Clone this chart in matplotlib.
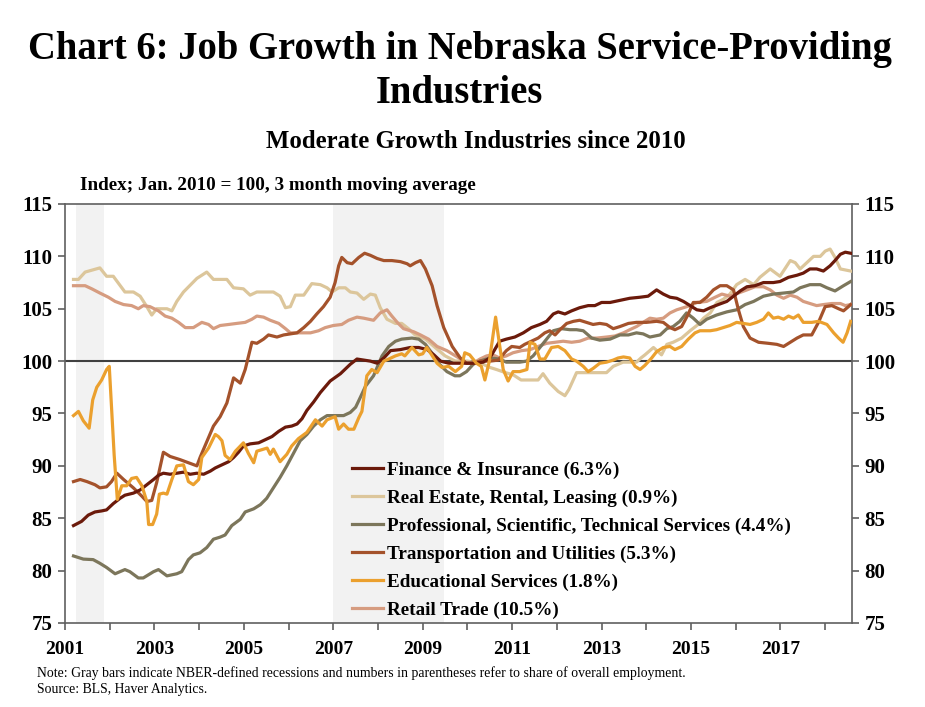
import matplotlib
matplotlib.use("Agg")
import matplotlib.pyplot as plt
from matplotlib.ticker import FixedLocator

plt.rcParams['font.family'] = ['Liberation Serif', 'DejaVu Serif']

# ---------------- data (decimal year, index) ----------------
fin_x = [2001.19, 2001.37, 2001.52, 2001.67, 2001.82, 2001.93, 2002.08, 2002.23, 2002.34, 2002.53,
         2002.68, 2002.83, 2002.98, 2003.09, 2003.2, 2003.35, 2003.5, 2003.65, 2003.8, 2003.95,
         2004.1, 2004.25, 2004.36, 2004.51, 2004.66, 2004.77, 2004.88, 2004.99, 2005.14, 2005.33,
         2005.48, 2005.63, 2005.78, 2005.93, 2006.07, 2006.19, 2006.3, 2006.41, 2006.56, 2006.71,
         2006.93, 2007.16, 2007.38, 2007.53, 2007.68, 2007.83, 2007.98, 2008.13, 2008.28, 2008.5,
         2008.72, 2008.91, 2009.1, 2009.25, 2009.4, 2009.58, 2009.83, 2010.13, 2010.35, 2010.5,
         2010.61, 2010.72, 2010.87, 2011.06, 2011.25, 2011.43, 2011.62, 2011.77, 2011.92, 2012.03,
         2012.18, 2012.33, 2012.51, 2012.7, 2012.85, 2013.0, 2013.19, 2013.41, 2013.63, 2013.86,
         2014.04, 2014.23, 2014.38, 2014.53, 2014.68, 2014.83, 2014.98, 2015.13, 2015.28, 2015.43,
         2015.61, 2015.8, 2015.95, 2016.1, 2016.25, 2016.43, 2016.62, 2016.84, 2016.99, 2017.18,
         2017.37, 2017.51, 2017.66, 2017.81, 2017.96, 2018.11, 2018.22, 2018.34, 2018.45, 2018.57]
fin_y = [84.3, 84.7, 85.3, 85.6, 85.7, 85.8, 86.4, 86.9, 87.2, 87.4,
         87.7, 88.2, 88.7, 89.1, 89.3, 89.2, 89.3, 89.4, 89.2, 89.3,
         89.2, 89.5, 89.8, 90.1, 90.4, 90.8, 91.3, 91.9, 92.1, 92.2,
         92.5, 92.8, 93.3, 93.7, 93.8, 94.0, 94.5, 95.3, 96.1, 97.0,
         98.1, 98.8, 99.7, 100.2, 100.1, 100.0, 99.8, 100.3, 101.0, 101.1,
         101.3, 101.3, 101.1, 100.6, 100.0, 99.8, 99.8, 99.8, 99.9, 100.3,
         101.1, 101.9, 102.1, 102.3, 102.7, 103.2, 103.5, 103.8, 104.5, 104.7,
         104.5, 104.8, 105.1, 105.3, 105.3, 105.6, 105.6, 105.8, 106.0, 106.1,
         106.2, 106.8, 106.4, 106.1, 106.0, 105.7, 105.3, 104.9, 104.8, 105.1,
         105.4, 105.7, 106.2, 106.7, 107.1, 107.2, 107.5, 107.5, 107.6, 108.0,
         108.2, 108.4, 108.8, 108.8, 108.6, 109.1, 109.6, 110.2, 110.4, 110.3]

re_x = [2001.19, 2001.3, 2001.45, 2001.78, 2001.93, 2002.08, 2002.34, 2002.53, 2002.68, 2002.83,
        2002.94, 2003.05, 2003.28, 2003.39, 2003.5, 2003.65, 2003.95, 2004.17, 2004.32, 2004.62,
        2004.77, 2004.99, 2005.14, 2005.29, 2005.66, 2005.81, 2005.93, 2006.04, 2006.15, 2006.34,
        2006.52, 2006.71, 2006.86, 2006.97, 2007.12, 2007.27, 2007.38, 2007.53, 2007.68, 2007.83,
        2007.94, 2008.05, 2008.2, 2008.39, 2008.53, 2008.68, 2008.83, 2009.06, 2009.28, 2009.5,
        2009.73, 2010.0, 2010.35, 2010.5, 2010.65, 2010.85, 2011.02, 2011.2, 2011.4, 2011.58,
        2011.69, 2011.84, 2012.03, 2012.18, 2012.27, 2012.44, 2012.74, 2013.11, 2013.26, 2013.48,
        2013.78, 2013.88, 2013.97, 2014.16, 2014.34, 2014.46, 2014.6, 2014.79, 2014.98, 2015.16,
        2015.28, 2015.43, 2015.58, 2015.72, 2015.87, 2016.02, 2016.21, 2016.4, 2016.54, 2016.77,
        2016.99, 2017.22, 2017.33, 2017.44, 2017.59, 2017.74, 2017.89, 2018.0, 2018.11, 2018.22,
        2018.34, 2018.57]
re_y = [107.8, 107.8, 108.5, 108.9, 108.1, 108.1, 106.6, 106.6, 106.2, 105.2,
        104.4, 105.0, 105.0, 104.8, 105.7, 106.6, 107.9, 108.5, 107.8, 107.8,
        107.0, 106.9, 106.3, 106.6, 106.6, 106.2, 105.1, 105.2, 106.3, 106.3,
        107.4, 107.3, 107.0, 106.6, 107.0, 107.0, 106.6, 106.5, 105.9, 106.4,
        106.3, 105.1, 104.0, 103.6, 103.6, 103.1, 102.5, 102.1, 101.3, 100.5,
        100.0, 100.0, 99.7, 99.4, 99.2, 98.9, 98.7, 98.2, 98.2, 98.2,
        98.8, 97.9, 97.1, 96.7, 97.3, 98.9, 98.9, 98.9, 99.5, 99.9,
        99.9, 100.3, 100.6, 101.3, 100.6, 101.6, 101.8, 102.2, 102.9, 103.5,
        104.1, 104.6, 105.6, 105.9, 106.4, 107.3, 107.8, 107.3, 108.0, 108.8,
        108.1, 109.6, 109.4, 108.8, 109.4, 110.0, 110.0, 110.5, 110.7, 109.9,
        108.8, 108.6]

pro_x = [2001.19, 2001.41, 2001.63, 2001.78, 2001.93, 2002.12, 2002.34, 2002.45, 2002.64, 2002.75,
         2002.98, 2003.09, 2003.28, 2003.5, 2003.61, 2003.76, 2003.87, 2004.02, 2004.17, 2004.32,
         2004.47, 2004.58, 2004.73, 2004.92, 2005.03, 2005.22, 2005.37, 2005.51, 2005.66, 2005.81,
         2005.96, 2006.11, 2006.26, 2006.41, 2006.56, 2006.71, 2006.86, 2007.0, 2007.23, 2007.38,
         2007.5, 2007.6, 2007.72, 2007.9, 2008.09, 2008.24, 2008.39, 2008.53, 2008.76, 2008.91,
         2009.06, 2009.2, 2009.35, 2009.54, 2009.72, 2009.83, 2009.98, 2010.13, 2010.28, 2010.5,
         2010.72, 2010.87, 2011.17, 2011.32, 2011.47, 2011.62, 2011.77, 2011.92, 2012.1, 2012.29,
         2012.44, 2012.59, 2012.78, 2012.96, 2013.19, 2013.41, 2013.6, 2013.78, 2013.93, 2014.08,
         2014.31, 2014.46, 2014.6, 2014.75, 2014.9, 2015.05, 2015.2, 2015.35, 2015.57, 2015.8,
         2016.02, 2016.21, 2016.4, 2016.62, 2016.84, 2017.07, 2017.29, 2017.44, 2017.66, 2017.89,
         2018.04, 2018.22, 2018.41, 2018.57]
pro_y = [81.4, 81.1, 81.05, 80.7, 80.3, 79.7, 80.1, 79.9, 79.3, 79.3,
         79.9, 80.1, 79.5, 79.7, 79.9, 81.05, 81.5, 81.7, 82.2, 83.0,
         83.2, 83.4, 84.3, 84.9, 85.6, 85.9, 86.3, 86.9, 87.9, 88.9,
         90.0, 91.2, 92.4, 93.0, 93.8, 94.4, 94.8, 94.8, 94.8, 95.1,
         95.6, 96.5, 97.6, 98.6, 100.5, 101.4, 101.9, 102.1, 102.2, 102.1,
         101.6, 100.8, 99.8, 99.0, 98.6, 98.6, 99.0, 99.7, 100.0, 100.3,
         100.2, 99.9, 99.9, 100.0, 100.5, 101.3, 102.1, 102.9, 103.1, 103.0,
         103.0, 102.9, 102.2, 102.0, 102.1, 102.5, 102.5, 102.7, 102.6, 102.3,
         102.5, 103.1, 103.3, 103.8, 104.6, 104.1, 103.5, 104.0, 104.4, 104.7,
         104.9, 105.4, 105.7, 106.2, 106.4, 106.5, 106.6, 107.0, 107.3, 107.3,
         107.0, 106.7, 107.2, 107.6]

tr_x = [2001.19, 2001.34, 2001.49, 2001.67, 2001.78, 2001.93, 2002.04, 2002.16, 2002.31, 2002.53,
        2002.72, 2002.83, 2002.94, 2003.05, 2003.2, 2003.35, 2003.57, 2003.76, 2003.95, 2004.02,
        2004.17, 2004.32, 2004.47, 2004.62, 2004.77, 2004.92, 2005.03, 2005.18, 2005.29, 2005.44,
        2005.55, 2005.74, 2005.89, 2006.04, 2006.19, 2006.34, 2006.49, 2006.63, 2006.78, 2006.93,
        2007.04, 2007.12, 2007.19, 2007.31, 2007.42, 2007.57, 2007.7, 2007.83, 2007.98, 2008.13,
        2008.31, 2008.5, 2008.65, 2008.72, 2008.84, 2008.95, 2009.06, 2009.21, 2009.32, 2009.47,
        2009.66, 2009.84, 2009.98, 2010.13, 2010.28, 2010.5, 2010.69, 2010.87, 2010.99, 2011.17,
        2011.28, 2011.43, 2011.58, 2011.73, 2011.84, 2011.96, 2012.07, 2012.22, 2012.37, 2012.51,
        2012.66, 2012.81, 2012.96, 2013.11, 2013.26, 2013.41, 2013.6, 2013.78, 2014.0, 2014.23,
        2014.38, 2014.53, 2014.64, 2014.79, 2014.94, 2015.05, 2015.2, 2015.35, 2015.5, 2015.65,
        2015.8, 2015.95, 2016.06, 2016.17, 2016.32, 2016.51, 2016.73, 2016.92, 2017.07, 2017.22,
        2017.37, 2017.51, 2017.7, 2017.85, 2018.0, 2018.15, 2018.3, 2018.41, 2018.52, 2018.57]
tr_y = [88.5, 88.7, 88.5, 88.2, 87.9, 88.0, 88.5, 89.3, 88.7, 87.9,
        87.1, 86.6, 86.7, 88.4, 91.3, 90.9, 90.6, 90.3, 90.0, 90.8,
        92.3, 93.8, 94.7, 96.0, 98.4, 97.9, 99.2, 101.8, 101.7, 102.1,
        102.5, 102.3, 102.5, 102.6, 102.7, 103.2, 103.8, 104.5, 105.2, 106.1,
        107.5, 109.1, 109.9, 109.4, 109.3, 109.9, 110.3, 110.1, 109.8, 109.6,
        109.6, 109.5, 109.3, 109.1, 109.4, 109.6, 108.8, 107.2, 105.3, 103.2,
        101.4, 100.3, 99.8, 99.8, 100.0, 100.0, 100.1, 101.0, 101.4, 101.3,
        101.6, 101.9, 102.2, 102.7, 102.9, 102.5, 103.0, 103.6, 103.8, 103.9,
        103.7, 103.5, 103.6, 103.5, 103.1, 103.3, 103.6, 103.7, 103.7, 103.8,
        103.7, 103.2, 103.0, 103.3, 104.5, 105.6, 105.6, 106.1, 106.8, 107.2,
        107.2, 106.8, 104.9, 103.3, 102.2, 101.8, 101.7, 101.6, 101.4, 101.8,
        102.2, 102.5, 102.5, 103.7, 105.2, 105.3, 105.0, 104.8, 105.2, 105.4]

ed_x = [2001.19, 2001.3, 2001.41, 2001.54, 2001.62, 2001.71, 2001.82, 2001.93, 2001.99, 2002.1,
        2002.17, 2002.27, 2002.38, 2002.49, 2002.6, 2002.72, 2002.83, 2002.87, 2002.96, 2003.05,
        2003.11, 2003.2, 2003.28, 2003.39, 2003.5, 2003.65, 2003.76, 2003.87, 2003.99, 2004.06,
        2004.21, 2004.36, 2004.43, 2004.51, 2004.58, 2004.69, 2004.81, 2004.99, 2005.1, 2005.22,
        2005.29, 2005.44, 2005.52, 2005.59, 2005.66, 2005.81, 2005.96, 2006.07, 2006.22, 2006.41,
        2006.6, 2006.75, 2006.86, 2007.04, 2007.12, 2007.23, 2007.34, 2007.46, 2007.57, 2007.64,
        2007.75, 2007.86, 2007.98, 2008.13, 2008.24, 2008.39, 2008.53, 2008.6, 2008.76, 2008.91,
        2009.0, 2009.09, 2009.2, 2009.32, 2009.43, 2009.58, 2009.73, 2009.87, 2009.94, 2010.05,
        2010.2, 2010.31, 2010.39, 2010.49, 2010.57, 2010.63, 2010.71, 2010.8, 2010.91, 2011.02,
        2011.17, 2011.33, 2011.4, 2011.51, 2011.62, 2011.73, 2011.88, 2012.03, 2012.18, 2012.33,
        2012.44, 2012.59, 2012.7, 2012.81, 2012.96, 2013.11, 2013.26, 2013.37, 2013.49, 2013.63,
        2013.75, 2013.86, 2013.97, 2014.12, 2014.23, 2014.38, 2014.53, 2014.64, 2014.79, 2014.94,
        2015.09, 2015.2, 2015.43, 2015.57, 2015.72, 2015.87, 2016.02, 2016.17, 2016.32, 2016.47,
        2016.62, 2016.73, 2016.84, 2016.95, 2017.07, 2017.18, 2017.29, 2017.4, 2017.51, 2017.7,
        2017.85, 2018.04, 2018.19, 2018.3, 2018.4, 2018.49, 2018.57]
ed_y = [94.8, 95.2, 94.3, 93.6, 96.3, 97.5, 98.2, 99.2, 99.5, 91.0,
        86.8, 88.1, 88.1, 88.8, 88.9, 88.1, 86.6, 84.4, 84.4, 85.4,
        87.3, 87.4, 87.3, 88.7, 90.0, 90.1, 88.5, 88.2, 88.7, 90.8,
        91.7, 93.0, 92.8, 92.4, 91.0, 90.6, 91.4, 92.2, 91.2, 90.3,
        91.4, 91.6, 91.7, 91.1, 91.6, 90.4, 91.1, 91.9, 92.6, 93.2,
        94.4, 93.8, 94.4, 94.7, 93.5, 94.0, 93.5, 93.5, 94.6, 95.2,
        98.6, 99.2, 98.9, 100.0, 100.2, 100.5, 100.7, 100.5, 101.3, 100.6,
        100.7, 101.3, 100.6, 99.8, 99.4, 99.5, 99.0, 99.5, 100.8, 100.6,
        99.8, 99.5, 98.2, 100.0, 102.4, 104.2, 101.8, 99.2, 98.1, 99.0,
        99.0, 99.2, 101.8, 101.6, 100.2, 100.2, 101.3, 101.4, 101.0, 100.2,
        100.0, 99.5, 99.0, 99.3, 99.8, 99.9, 100.1, 100.3, 100.4, 100.3,
        99.5, 99.2, 99.6, 100.3, 100.9, 101.3, 101.4, 101.1, 101.4, 102.1,
        102.7, 102.9, 102.9, 103.0, 103.2, 103.4, 103.7, 103.6, 103.5, 103.7,
        104.0, 104.6, 104.1, 104.2, 104.0, 104.3, 104.1, 104.4, 103.7, 103.7,
        103.8, 103.5, 102.7, 102.2, 101.8, 102.7, 103.8]

rt_x = [2001.19, 2001.45, 2001.6, 2001.78, 2001.97, 2002.12, 2002.31, 2002.49, 2002.64, 2002.75,
        2002.9, 2003.09, 2003.24, 2003.39, 2003.54, 2003.69, 2003.87, 2004.06, 2004.21, 2004.32,
        2004.47, 2004.66, 2004.84, 2005.03, 2005.18, 2005.29, 2005.44, 2005.59, 2005.78, 2005.93,
        2006.04, 2006.26, 2006.49, 2006.67, 2006.82, 2007.0, 2007.19, 2007.34, 2007.53, 2007.68,
        2007.9, 2008.05, 2008.2, 2008.31, 2008.43, 2008.57, 2008.8, 2008.95, 2009.13, 2009.32,
        2009.54, 2009.81, 2009.98, 2010.13, 2010.28, 2010.43, 2010.57, 2010.72, 2010.87, 2011.02,
        2011.21, 2011.4, 2011.58, 2011.77, 2011.96, 2012.14, 2012.33, 2012.51, 2012.7, 2012.89,
        2013.11, 2013.3, 2013.49, 2013.63, 2013.78, 2013.93, 2014.08, 2014.23, 2014.38, 2014.53,
        2014.68, 2014.83, 2014.98, 2015.13, 2015.35, 2015.54, 2015.69, 2015.87, 2016.06, 2016.25,
        2016.43, 2016.62, 2016.77, 2016.92, 2017.07, 2017.22, 2017.37, 2017.51, 2017.66, 2017.81,
        2017.96, 2018.15, 2018.34, 2018.45, 2018.57]
rt_y = [107.2, 107.2, 106.9, 106.5, 106.1, 105.7, 105.4, 105.3, 105.0, 105.3,
        105.2, 104.8, 104.3, 104.1, 103.7, 103.2, 103.2, 103.7, 103.5, 103.1,
        103.4, 103.5, 103.6, 103.7, 104.0, 104.3, 104.2, 103.9, 103.6, 103.1,
        102.7, 102.7, 102.7, 102.9, 103.2, 103.4, 103.5, 103.9, 104.2, 104.1,
        103.9, 104.6, 104.9, 104.3, 103.7, 103.1, 102.8, 102.5, 102.1, 101.4,
        101.0, 100.3, 99.8, 99.8, 100.2, 100.5, 100.6, 100.3, 100.5, 100.8,
        101.0, 101.1, 101.4, 101.7, 101.8, 101.9, 101.8, 101.9, 102.2, 102.2,
        102.3, 102.4, 102.7, 103.0, 103.3, 103.7, 104.1, 104.0, 104.1, 104.6,
        104.9, 105.1, 105.3, 105.6, 105.7, 106.1, 106.4, 106.2, 106.5, 106.8,
        107.1, 107.1, 106.8, 106.3, 106.0, 106.3, 106.1, 105.7, 105.5, 105.3,
        105.4, 105.5, 105.5, 105.3, 105.4]

series_labels = ["Finance & Insurance (6.3%)",
                 "Real Estate, Rental, Leasing (0.9%)",
                 "Professional, Scientific, Technical Services (4.4%)",
                 "Transportation and Utilities (5.3%)",
                 "Educational Services (1.8%)",
                 "Retail Trade (10.5%)"]
series_colors = ["#6B1A0B", "#DCC69B", "#7C765B", "#A4522B", "#EBA02E", "#D69C80"]

recessions = [(2001.25, 2001.88), (2007.0, 2009.47)]
major_years = [2001, 2003, 2005, 2007, 2009, 2011, 2013, 2015, 2017]
minor_years = [2002, 2004, 2006, 2008, 2010, 2012, 2014, 2016, 2018]
y_ticks = [75, 80, 85, 90, 95, 100, 105, 110, 115]

# ---------------- figure ----------------
fig = plt.figure(figsize=(9.25, 7.07), dpi=100)
ax = fig.add_axes([65/925, 1-623/707, (852-65)/925, (623-204)/707])

for a, b in recessions:
    ax.axvspan(a, b, color="#F2F2F2", zorder=0, lw=0)

ax.axhline(100, color="#404040", lw=1.5, zorder=1)

data = [(fin_x, fin_y), (re_x, re_y), (pro_x, pro_y), (tr_x, tr_y), (ed_x, ed_y), (rt_x, rt_y)]
order = [1, 5, 2, 3, 0, 4]
handles = {}
for i in order:
    x, y = data[i]
    h, = ax.plot(x, y, color=series_colors[i], lw=2.3, zorder=3, solid_joinstyle='round')
    handles[i] = h

ax.set_xlim(2001.0, 2018.6)
ax.set_ylim(75, 115)

ax.xaxis.set_major_locator(FixedLocator(major_years))
ax.xaxis.set_minor_locator(FixedLocator(minor_years))
ax.set_xticklabels([str(y) for y in major_years])
ax.set_yticks(y_ticks)
ax.tick_params(axis='both', which='both', direction='out', length=5, width=1.2, color="#606060")
ax.tick_params(axis='x', labelsize=14, pad=8)
ax.tick_params(axis='y', right=True, labelright=True, labelsize=15, pad=4)
for t in ax.xaxis.get_ticklabels() + ax.yaxis.get_ticklabels():
    t.set_fontweight('bold')
for t in ax.yaxis.get_majorticklabels():
    t.set_fontweight('bold')
for sp in ax.spines.values():
    sp.set_color("#606060")
    sp.set_linewidth(1.2)

leg = ax.legend([handles[i] for i in range(6)], series_labels, loc='lower left',
                bbox_to_anchor=(0.355, -0.008), frameon=False, handlelength=1.6,
                handletextpad=0.22, labelspacing=0.55, borderaxespad=0,
                prop={'family': 'Liberation Serif', 'weight': 'bold', 'size': 13.8})

fig.text(0.497, 0.899, "Chart 6: Job Growth in Nebraska Service-Providing\nIndustries",
         ha='center', va='center', fontsize=27.8, fontweight='bold', linespacing=1.25)
fig.text(0.514, 0.800, "Moderate Growth Industries since 2010", ha='center', va='center',
         fontsize=17.8, fontweight='bold')
fig.text(0.086, 0.737, "Index; Jan. 2010 = 100, 3 month moving average", ha='left', va='center',
         fontsize=13.8, fontweight='bold')
fig.text(0.040, 0.048, "Note: Gray bars indicate NBER-defined recessions and numbers in parentheses refer to share of overall employment.",
         ha='left', va='center', fontsize=9.9)
fig.text(0.040, 0.025, "Source: BLS, Haver Analytics.", ha='left', va='center', fontsize=9.9)

fig.savefig("out.png", dpi=100)
